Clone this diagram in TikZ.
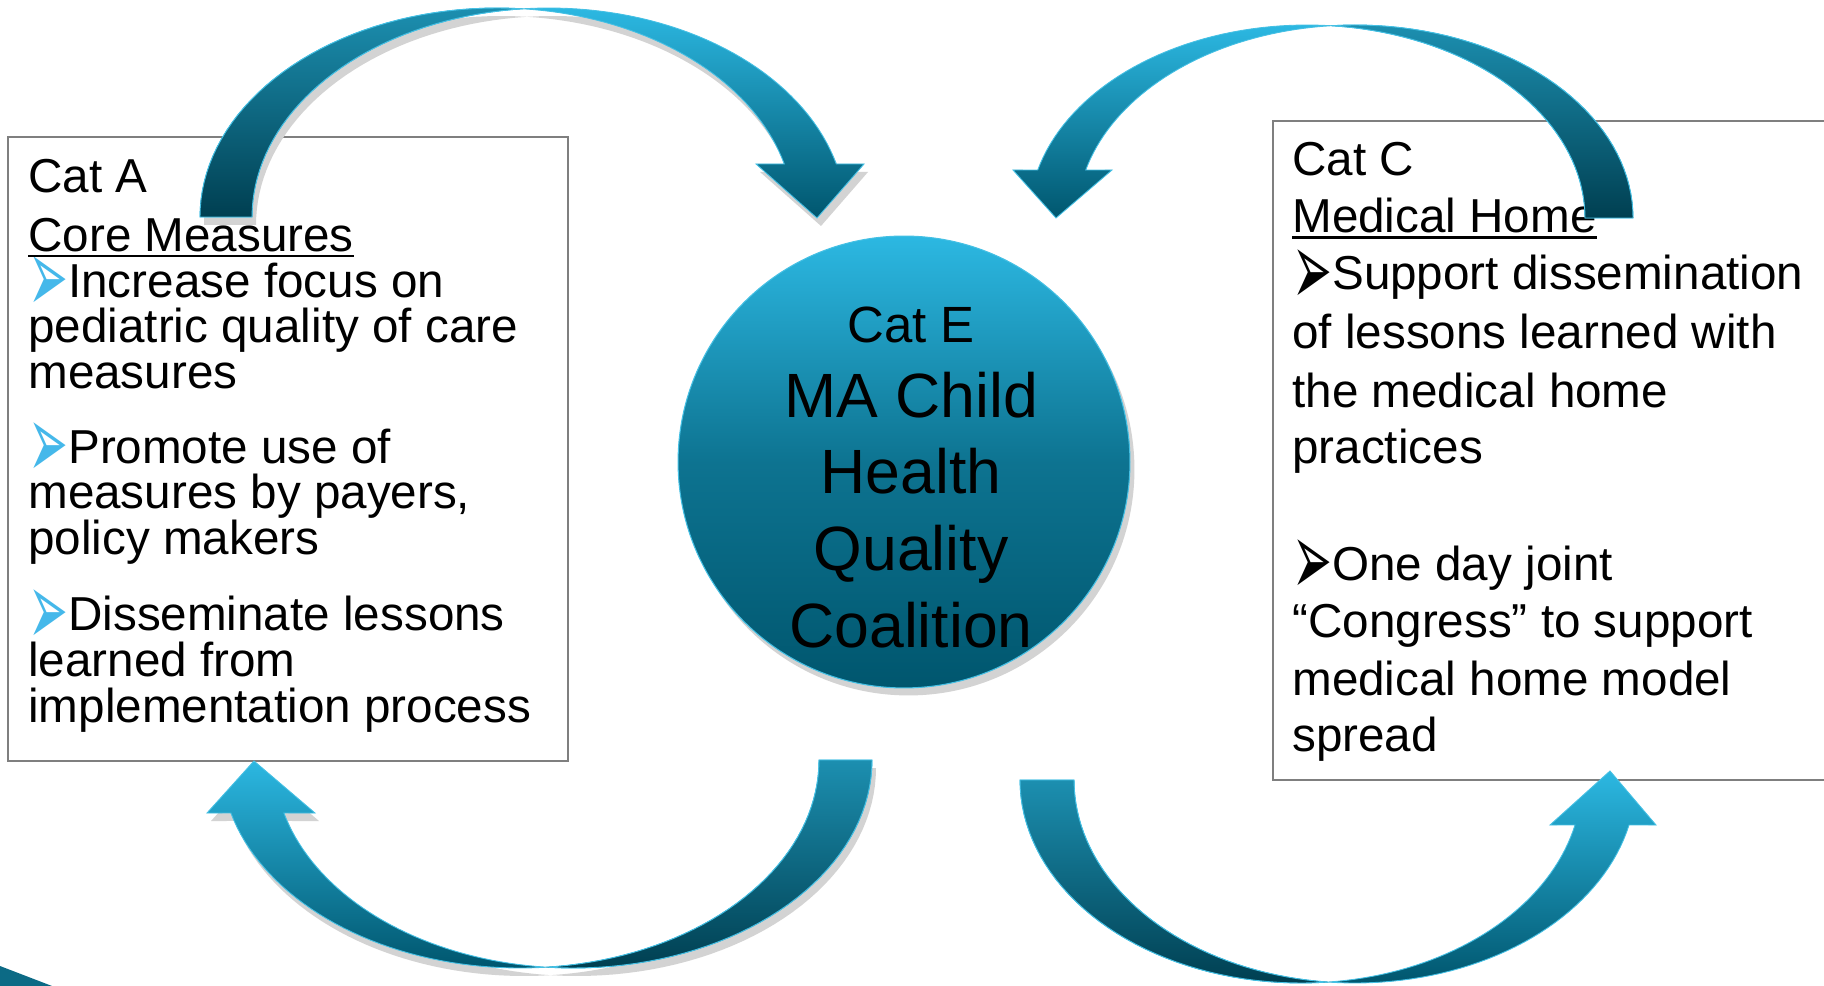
\documentclass[tikz,border=0pt]{standalone}
\usepackage{fontspec}
\setmainfont{Liberation Sans}
\newfontfamily\dingfont{DejaVu Sans}
\usetikzlibrary{shadows}
\definecolor{cLight}{HTML}{2CB8E2}
\definecolor{cDark}{HTML}{00566E}
\definecolor{cTailLight}{HTML}{1C8FB0}
\definecolor{cTailDark}{HTML}{003F51}
\definecolor{cEdge}{HTML}{45C0E4}
\definecolor{cShadow}{HTML}{D3D3D3}
\definecolor{cBullet}{HTML}{45B8EA}
\definecolor{cBorder}{HTML}{7F7F7F}
\definecolor{cCorner}{HTML}{0C6A85}

% bullets
\newcommand{\bulA}{{\dingfont\color{cBullet}\raisebox{-0.33em}[0pt][0pt]{\scalebox{1}[2.2]{➢}}}}
\newcommand{\bulC}{{\dingfont\raisebox{-0.33em}[0pt][0pt]{\scalebox{1}[2.2]{➢}}}}

% piece of an ellipse: centre x, centre y, x radius, y radius, from, to
\newcommand{\earc}[6]{plot[variable=\t, domain=#5:#6, samples=40] ({#1+#3*cos(\t)}, {#2+#4*sin(\t)})}
\newcommand{\earcto}[6]{-- plot[variable=\t, domain=#5:#6, samples=40] ({#1+#3*cos(\t)}, {#2+#4*sin(\t)})}

% curved arrows (whole ribbon and its tail half)
\newcommand{\arrTL}{\earc{497}{217}{297}{209}{-180}{-85} \earcto{549}{217}{297}{209}{-95}{-14.7}
  -- (864,164) -- (817,218) -- (756,164)
  \earcto{497}{217}{297}{209}{-14.7}{-85} \earcto{549}{217}{297}{209}{-95}{-180} -- cycle}
\newcommand{\tailTL}{\earc{497}{217}{297}{209}{-180}{-85} \earcto{549}{217}{297}{209}{-95}{-180} -- cycle}

\newcommand{\arrTR}{\earc{1355}{218}{278}{193}{0}{-94.95} \earcto{1307}{218}{278}{193}{-85.05}{-165.6}
  -- (1013,170) -- (1056,218) -- (1112,170)
  \earcto{1355}{218}{278}{193}{-165.6}{-94.95} \earcto{1307}{218}{278}{193}{-85.05}{0} -- cycle}
\newcommand{\tailTR}{\earc{1355}{218}{278}{193}{0}{-94.95} \earcto{1307}{218}{278}{193}{-85.05}{0} -- cycle}

\newcommand{\arrBL}{\earc{573}{760}{299}{208}{0}{95.1} \earcto{520}{760}{299}{208}{84.9}{165.24}
  -- (207,813) -- (254,761) -- (315,813)
  \earcto{573}{760}{299}{208}{165.24}{95.1} \earcto{520}{760}{299}{208}{84.9}{0} -- cycle}
\newcommand{\tailBL}{\earc{573}{760}{299}{208}{0}{95.1} \earcto{520}{760}{299}{208}{84.9}{0} -- cycle}

\newcommand{\arrBR}{\earc{1301}{780}{281}{203}{180}{84.5} \earcto{1355}{780}{281}{203}{95.5}{12.8}
  -- (1656,825) -- (1610,771) -- (1550,825)
  \earcto{1301}{780}{281}{203}{12.8}{84.5} \earcto{1355}{780}{281}{203}{95.5}{180} -- cycle}
\newcommand{\tailBR}{\earc{1301}{780}{281}{203}{180}{84.5} \earcto{1355}{780}{281}{203}{95.5}{180} -- cycle}

\begin{document}
\begin{tikzpicture}[x=0.02cm, y=-0.02cm,
    box/.style={draw=cBorder, line width=0.9pt, fill=white, inner sep=0pt},
    txt/.style={anchor=base west, inner sep=0pt, font=\fontsize{27.1}{32}\selectfont},
    ribbon/.style={top color=cLight, bottom color=cDark, draw=cEdge, line width=0.5pt},
    tailpart/.style={top color=cTailLight, bottom color=cTailDark, draw=cEdge, line width=0.5pt},
    dropgray/.style={fill=cShadow}]
  \useasboundingbox (0,0) rectangle (1824,986);
  \clip (0,0) rectangle (1824,986);

  % the two text boxes
  \node[box, minimum width=11.2cm, minimum height=12.48cm] (catA) at (288,449) {};
  \node[box, minimum width=11.14cm, minimum height=13.18cm] (catC) at (1551.5,450.5) {};

  % left box
  \foreach \yy/\txt [count=\i] in {193/{Cat A}, 297/{\bulA Increase focus on},
      342/{pediatric quality of care}, 388/{measures}, 463/{\bulA Promote use of},
      508/{measures by payers,}, 554/{policy makers}, 630/{\bulA Disseminate lessons},
      676/{learned from}, 722/{implementation process}}
    \node[txt] (a\i) at (28,\yy) {\txt};
  \node[txt] (aHead) at (28,252) {Core Measures};
  \draw[line width=1.5pt] ([yshift=-2.3pt]aHead.base west) -- ([yshift=-2.3pt]aHead.base east);

  % right box
  \foreach \yy/\txt [count=\i] in {176/{Cat C}, 290/{\bulC Support dissemination},
      348/{of lessons learned with}, 407/{the medical home}, 463/{practices},
      580/{\bulC One day joint}, 637/{“Congress” to support},
      695/{medical home model}, 751/{spread}}
    \node[txt] (c\i) at (1292,\yy) {\txt};
  \node[txt] (cHead) at (1292,233) {Medical Home};
  \draw[line width=1.5pt] ([yshift=-2.6pt]cHead.base west) -- ([yshift=-2.6pt]cHead.base east);

  % centre circle
  \node[circle, minimum size=9.04cm, inner sep=0pt, draw=cEdge, line width=0.6pt,
        top color=cLight, bottom color=cDark, middle color=cLight!30!cDark,
        drop shadow={shadow xshift=0.09cm, shadow yshift=-0.15cm, fill=cShadow, opacity=1}]
        (catE) at (904,462) {};
  \foreach \yy/\txt/\fs [count=\i] in {342/{Cat E}/29, 417/{MA Child}/35.6,
      493/{Health}/35.6, 570/{Quality}/35.6, 647/{Coalition}/35.6}
    \node[anchor=base, inner sep=0pt, font=\fontsize{\fs}{\fs}\selectfont] (e\i) at (911,\yy) {\txt};

  % curved arrows
  \fill[dropgray, shift={(4,8)}] \arrTL;
  \fill[dropgray, shift={(4,8)}] \arrBL;
  \shade[ribbon] \arrTL;   \shade[tailpart] \tailTL;
  \shade[ribbon] \arrBL;   \shade[tailpart] \tailBL;
  \shade[ribbon] \arrTR;   \shade[tailpart] \tailTR;
  \shade[ribbon] \arrBR;   \shade[tailpart] \tailBR;

  % corner
  \fill[cCorner] (0,966) -- (52,986) -- (0,986) -- cycle;
\end{tikzpicture}
\end{document}
